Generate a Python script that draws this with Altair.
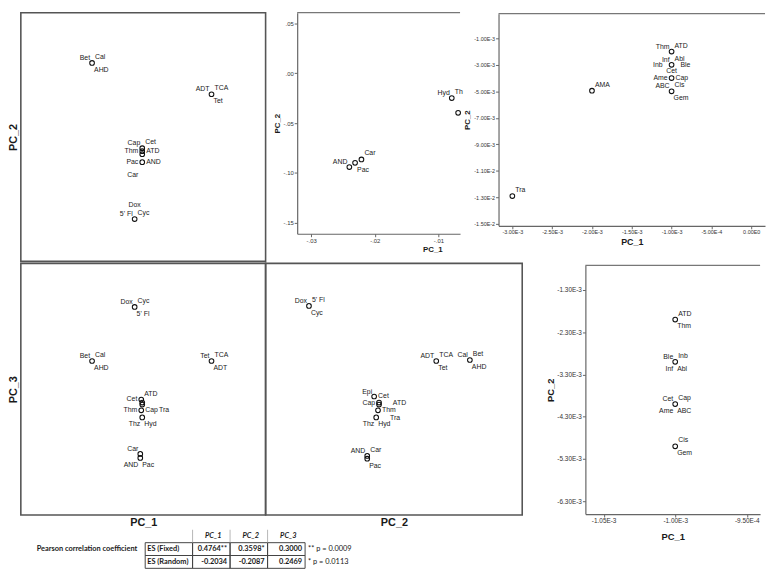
import altair as alt
import pandas as pd

LAB_FONT = "Liberation Sans"
TBL_FONT = "Lato"
INK = "#1a1a1a"
FRAME = "#555555"
AXIS = "#666666"
TOPLINE = "#777777"

# ---------------- matrix cell PC_1 (x) vs PC_2 (y), unitless fractions of the cell
tl_x = [0.291, 0.779, 0.496, 0.496, 0.496, 0.496, 0.465]
tl_y = [0.798, 0.672, 0.455, 0.443, 0.431, 0.399, 0.170]
tl_lab_pt = [0, 0, 0, 1, 1, 1, 2, 2, 3, 3, 5, 5, 5, 6, 6, 6]
tl_lab_txt = ["Bet", "Cal", "AHD", "ADT", "TCA", "Tet", "Cap", "Cet", "Thm", "ATD",
              "Pac", "AND", "Car", "Dox", "5' Fl", "Cyc"]
tl_lab_pos = ["ul", "ur", "lr", "ul", "ur", "lr", "ul", "ur", "l", "r",
              "l", "r", "b", "tt", "ul", "ur"]

# ---------------- matrix cell PC_1 (x) vs PC_3 (y)
bl_x = [0.465, 0.291, 0.779, 0.492, 0.496, 0.496, 0.492, 0.496, 0.488, 0.488]
bl_y = [0.827, 0.612, 0.612, 0.459, 0.447, 0.439, 0.416, 0.388, 0.243, 0.227]
bl_lab_pt = [0, 0, 0, 1, 1, 1, 2, 2, 2, 3, 3, 6, 6, 6, 7, 7, 8, 9, 9]
bl_lab_txt = ["Dox", "Cyc", "5' Fl", "Bet", "Cal", "AHD", "Tet", "TCA", "ADT", "Cet", "ATD",
              "Thm", "Cap", "Tra", "Thz", "Hyd", "Car", "AND", "Pac"]
bl_lab_pos = ["ul", "ur", "lr", "ul", "ur", "lr", "ul", "ur", "lr", "l", "ur",
              "l", "r", "r4", "ll", "lr", "ul", "ll", "lr"]

# ---------------- matrix cell PC_2 (x) vs PC_3 (y)
bm_x = [0.169, 0.665, 0.796, 0.423, 0.442, 0.442, 0.438, 0.431, 0.396, 0.396]
bm_y = [0.831, 0.612, 0.616, 0.471, 0.447, 0.439, 0.416, 0.388, 0.235, 0.224]
bm_lab_pt = [0, 0, 0, 1, 1, 1, 2, 2, 2, 3, 3, 4, 4, 6, 7, 7, 7, 8, 8, 9]
bm_lab_txt = ["Dox", "5' Fl", "Cyc", "ADT", "TCA", "Tet", "Cal", "Bet", "AHD", "Epi", "Cet",
              "Cap", "ATD", "Thm", "Thz", "Hyd", "Tra", "AND", "Car", "Pac"]
bm_lab_pos = ["ul", "ur", "lr", "ul", "ur", "lr", "ul", "ur", "lr", "ul", "r",
              "l", "r2", "r", "ll", "lr", "r2", "ul", "ur", "lr"]

# ---------------- zoom 1 (top middle): PC_1 vs PC_2
tm_pc1 = [-0.0240, -0.0231, -0.0221, -0.0079, -0.0069]
tm_pc2 = [-0.0941, -0.0898, -0.0864, -0.0248, -0.0396]
tm_lab_pt = [0, 1, 2, 3, 3]
tm_lab_txt = ["AND", "Pac", "Car", "Hyd", "Th"]
tm_lab_pos = ["ul", "lr", "ur", "ul", "ur"]
tm_xticks = [-0.03, -0.02, -0.01]
tm_yticks = [0.05, 0.0, -0.05, -0.10, -0.15]

# ---------------- zoom 2 (top right): PC_1 vs PC_2
tr_pc1 = [-3.0e-3, -2.0e-3, -1.0e-3, -1.0e-3, -1.0e-3, -1.0e-3]
tr_pc2 = [-1.29e-2, -4.95e-3, -2.0e-3, -3.0e-3, -4.0e-3, -5.0e-3]
tr_lab_pt = [0, 1, 2, 2, 3, 3, 3, 3, 4, 4, 4, 5, 5, 5]
tr_lab_txt = ["Tra", "AMA", "Thm", "ATD", "Inf", "Abl", "Inb", "Ble", "Cet", "Ame", "Cap",
              "ABC", "Cis", "Gem"]
tr_lab_pos = ["ur", "ur", "ul", "ur", "ul", "ur", "l2", "r3", "t", "l", "r", "ul", "ur", "lr"]
tr_xticks = [-3.0e-3, -2.5e-3, -2.0e-3, -1.5e-3, -1.0e-3, -5.0e-4, 0.0]
tr_yticks = [-1.0e-3, -3.0e-3, -5.0e-3, -7.0e-3, -9.0e-3, -1.1e-2, -1.3e-2, -1.5e-2]

# ---------------- zoom 3 (bottom right): PC_1 vs PC_2
br_pc1 = [-1.0e-3, -1.0e-3, -1.0e-3, -1.0e-3]
br_pc2 = [-2.0e-3, -3.0e-3, -4.0e-3, -5.0e-3]
br_lab_pt = [0, 0, 1, 1, 1, 1, 2, 2, 2, 2, 3, 3]
br_lab_txt = ["ATD", "Thm", "Ble", "Inb", "Inf", "Abl", "Cet", "Cap", "Ame", "ABC", "Cis", "Gem"]
br_lab_pos = ["ur", "lr", "ul", "ur", "ll", "lr", "ul", "ur", "ll", "lr", "ur", "lr"]
br_xticks = [-1.05e-3, -1.0e-3, -9.5e-4]
br_yticks = [-1.3e-3, -2.3e-3, -3.3e-3, -4.3e-3, -5.3e-3, -6.3e-3]

# ---------------- table
tbl_caption = "Pearson correlation coefficient"
tbl_cols = ["PC_1", "PC_2", "PC_3"]
tbl_rows = ["ES (Fixed)", "ES (Random)"]
tbl_fixed = ["0.4764**", "0.3598*", "0.3000"]
tbl_random = ["-0.2034", "-0.2087", "0.2469"]
tbl_notes = ["** p = 0.0009", "* p = 0.0113"]

# label placement styles (relative to the point)
POS = {
    "ul": dict(align="right", baseline="bottom", dx=-2, dy=-2),
    "ur": dict(align="left", baseline="bottom", dx=3, dy=-3),
    "ll": dict(align="right", baseline="top", dx=-2, dy=3),
    "lr": dict(align="left", baseline="top", dx=2, dy=3),
    "l": dict(align="right", baseline="middle", dx=-4, dy=0),
    "r": dict(align="left", baseline="middle", dx=4, dy=0),
    "l2": dict(align="right", baseline="middle", dx=-9, dy=0),
    "r2": dict(align="left", baseline="middle", dx=14, dy=1),
    "r3": dict(align="left", baseline="middle", dx=9, dy=0),
    "r4": dict(align="left", baseline="middle", dx=18, dy=0),
    "t": dict(align="center", baseline="bottom", dx=0, dy=-4),
    "tt": dict(align="center", baseline="bottom", dx=0, dy=-11),
    "b": dict(align="right", baseline="top", dx=-4, dy=9),
}

EXPR_DEC = "replace(replace(format(datum.value, '.2f'), '0.', '.'), '\u2212', '-')"
EXPR_SCI = "replace(replace(upper(format(datum.value, '.2e')), '+', ''), '\u2212', '-')"


def title_axis(title, offset):
    return alt.Axis(title=title, domain=False, ticks=False, labels=False, grid=False,
                    offset=offset, titleFontSize=11, titleFont=LAB_FONT,
                    titleFontWeight="bold", titleColor=INK, titlePadding=2)


def num_axis(title, values, expr, offset, lsize, tsize, tpad=2, **kw):
    return alt.Axis(title=title, values=values, labelExpr=expr, offset=offset, grid=False,
                    domainColor=AXIS, domainWidth=1.2, tickColor=AXIS, tickSize=3,
                    tickWidth=1, labelFontSize=lsize, labelFont=LAB_FONT, labelColor="#333",
                    labelPadding=1, titleFontSize=tsize, titleFont=LAB_FONT,
                    titleFontWeight="bold", titleColor=INK, titlePadding=tpad,
                    labelOverlap=False, labelFlush=False, **kw)


def panel(px, py, lab_pt, lab_txt, lab_pos, xd, yd, xr, yr, w, h, xaxis, yaxis, box=True):
    xs = alt.Scale(domain=xd, range=xr, nice=False, zero=False)
    ys = alt.Scale(domain=yd, range=yr, nice=False, zero=False)
    pts = pd.DataFrame({"x": px, "y": py})
    labs = pd.DataFrame({"x": [px[i] for i in lab_pt], "y": [py[i] for i in lab_pt],
                         "t": lab_txt, "p": lab_pos})
    one = pd.DataFrame({"k": [0]})
    layers = []
    if box:
        layers.append(alt.Chart(one).mark_rect(fillOpacity=0, stroke=FRAME, strokeWidth=1.6).encode(
            x=alt.XDatum(xd[0], scale=xs, axis=xaxis), x2=alt.X2Datum(xd[1]),
            y=alt.YDatum(yd[0], scale=ys, axis=yaxis), y2=alt.Y2Datum(yd[1])))
    else:
        layers.append(alt.Chart(one).mark_rule(color=TOPLINE, strokeWidth=1.2).encode(
            x=alt.XDatum(xd[0], scale=xs, axis=xaxis), x2=alt.X2Datum(xd[1]),
            y=alt.YDatum(yd[1], scale=ys, axis=yaxis)))
    layers.append(alt.Chart(pts).mark_point(shape="circle", filled=False, color="#111",
                                            strokeWidth=1.1, size=22, opacity=1).encode(
        x=alt.X("x:Q", scale=xs, axis=xaxis), y=alt.Y("y:Q", scale=ys, axis=yaxis)))
    for code in dict.fromkeys(lab_pos):
        sub = labs[labs["p"] == code]
        layers.append(alt.Chart(sub).mark_text(fontSize=7, font=LAB_FONT, color=INK,
                                               **POS[code]).encode(
            x=alt.X("x:Q", scale=xs, axis=xaxis), y=alt.Y("y:Q", scale=ys, axis=yaxis),
            text="t:N"))
    return alt.layer(*layers).properties(width=w, height=h)


# grid cells: columns 260 / 236 / 270 px, rows 254 / 270 / 39 px
TL = panel(tl_x, tl_y, tl_lab_pt, tl_lab_txt, tl_lab_pos, [0, 1], [0, 1], [12, 260], [252, 0],
           260, 254, None, title_axis("PC_2", -12))
TM = panel(tm_pc1, tm_pc2, tm_lab_pt, tm_lab_txt, tm_lab_pos, [-0.0322, -0.0066], [-0.161, 0.0609],
           [32, 197], [224, 0], 236, 254,
           num_axis("PC_1", tm_xticks, EXPR_DEC, -30, 6, 8, titleX=169),
           num_axis("PC_2", tm_yticks, EXPR_DEC, -32, 6, 8), box=False)
TR = panel(tr_pc1, tr_pc2, tr_lab_pt, tr_lab_txt, tr_lab_pos, [-3.1736e-3, 0.1736e-3],
           [-0.01515, 0.000862], [0, 270], [216, 1], 270, 254,
           num_axis("PC_1", tr_xticks, EXPR_SCI, -38, 5.5, 9),
           num_axis("PC_2", tr_yticks, EXPR_SCI, 0, 5.5, 8), box=False)
BL = panel(bl_x, bl_y, bl_lab_pt, bl_lab_txt, bl_lab_pos, [0, 1], [0, 1], [12, 260], [255, 0],
           260, 270, title_axis("PC_1", -15), title_axis("PC_3", -12))
BM = panel(bm_x, bm_y, bm_lab_pt, bm_lab_txt, bm_lab_pos, [0, 1], [0, 1], [0, 260], [255, 0],
           236, 270, title_axis("PC_2", -15), None)
BR = panel(br_pc1, br_pc2, br_lab_pt, br_lab_txt, br_lab_pos, [-1.06276e-3, -0.94069e-3],
           [-6.604e-3, -0.716e-3], [88, 265], [254, 2], 270, 270,
           num_axis("PC_1", br_xticks, EXPR_SCI, -16, 6.5, 9.5, tpad=7),
           num_axis("PC_2", br_yticks, EXPR_SCI, -88, 6.5, 9.5, tpad=1), box=False)

# ---------------- table (one layered chart, each column block with its own band scale)
HDR = " "
H_T = 39
ysc = alt.Scale(domain=[HDR] + tbl_rows, paddingInner=0, paddingOuter=0)


def band(dom, rng):
    return alt.Scale(domain=dom, range=rng, paddingInner=0, paddingOuter=0)


TXT = dict(baseline="middle", font=TBL_FONT, fontSize=7.5, color=INK)

cap_df = pd.DataFrame({"c": ["cap"], "r": [tbl_rows[0]], "t": [tbl_caption]})
cap = alt.Chart(cap_df).mark_text(align="right", dx=61, fontWeight="bold", **TXT).encode(
    x=alt.X("c:N", axis=None, scale=band(["cap"], [0, 138])),
    y=alt.Y("r:N", axis=None, scale=ysc), text="t:N")

lab_df = pd.DataFrame({"c": ["lab", "lab"], "r": tbl_rows})
lab_rect = alt.Chart(lab_df).mark_rect(fillOpacity=0, stroke="#444", strokeWidth=1).encode(
    x=alt.X("c:N", axis=None, scale=band(["lab"], [138, 186])),
    y=alt.Y("r:N", axis=None, scale=ysc))
lab_txt = alt.Chart(lab_df).mark_text(align="left", dx=-22, fontWeight="bold", **TXT).encode(
    x=alt.X("c:N", axis=None, scale=band(["lab"], [138, 186])),
    y=alt.Y("r:N", axis=None, scale=ysc), text="r:N")

val_df = pd.DataFrame({"c": tbl_cols + tbl_cols,
                       "r": [tbl_rows[0]] * 3 + [tbl_rows[1]] * 3,
                       "v": tbl_fixed + tbl_random})
hdr_df = pd.DataFrame({"c": tbl_cols, "r": [HDR] * 3})
v_rect = alt.Chart(val_df).mark_rect(fillOpacity=0, stroke="#444", strokeWidth=1).encode(
    x=alt.X("c:N", axis=None, scale=band(tbl_cols, [186, 300])),
    y=alt.Y("r:N", axis=None, scale=ysc))
v_txt = alt.Chart(val_df).mark_text(align="right", dx=16, fontWeight="bold", **TXT).encode(
    x=alt.X("c:N", axis=None, scale=band(tbl_cols, [186, 300])),
    y=alt.Y("r:N", axis=None, scale=ysc), text="v:N")
h_txt = alt.Chart(hdr_df).mark_text(align="center", dx=2, fontWeight="bold", fontStyle="italic",
                                    **TXT).encode(
    x=alt.X("c:N", axis=None, scale=band(tbl_cols, [186, 300])),
    y=alt.Y("r:N", axis=None, scale=ysc), text="c:N")
# header separators: same columns, scale shifted by half a column so ticks sit on cell edges
h_sep = alt.Chart(hdr_df).mark_tick(orient="vertical", color="#999", thickness=1, size=13).encode(
    x=alt.X("c:N", axis=None, scale=band(tbl_cols, [167, 281])),
    y=alt.Y("r:N", axis=None, scale=ysc))

note_df = pd.DataFrame({"c": ["n", "n"], "r": tbl_rows, "t": tbl_notes})
notes = alt.Chart(note_df).mark_text(align="left", dx=-27, **TXT).encode(
    x=alt.X("c:N", axis=None, scale=band(["n"], [300, 360])),
    y=alt.Y("r:N", axis=None, scale=ysc), text="t:N")

TABLE = alt.layer(cap, lab_rect, lab_txt, v_rect, h_sep, h_txt, v_txt, notes).resolve_scale(
    x="independent").properties(width=260, height=H_T)

chart = alt.concat(TL, TM, TR, BL, BM, BR, TABLE, columns=3, spacing=0, bounds="flush",
                   align="each").properties(padding=0, background="white").configure_view(stroke=None)

chart.save("out.html", embed_options={"renderer": "svg", "actions": False})
